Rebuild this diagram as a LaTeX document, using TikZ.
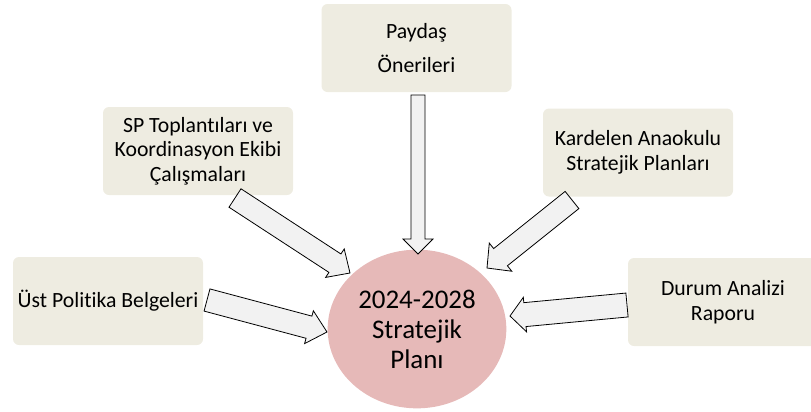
\documentclass[tikz,border=0pt]{standalone}
\usepackage{fontspec}
\setmainfont{Carlito}[Ligatures=NoCommon]
\usetikzlibrary{calc,shapes.geometric}
\definecolor{boxfill}{HTML}{EEECE1}
\definecolor{planfill}{HTML}{E6B9B8}
\definecolor{arrfill}{HTML}{F2F2F2}
% block arrow: tail, tip, half shaft, half head, head length
\newcommand\blockarrow[5]{%
  \draw[arr] (#1) coordinate (t) (#2) coordinate (h) ($(h)!#5!(t)$) coordinate (b)
    ($(t)!#3!90:(h)$) -- ($(b)!#3!90:(h)$) -- ($(b)!#4!90:(h)$) -- (h)
    -- ($(b)!#4!-90:(h)$) -- ($(b)!#3!-90:(h)$) -- ($(t)!#3!-90:(h)$) -- cycle;}
\begin{document}
\begin{tikzpicture}[x=0.75pt, y=-0.75pt,
box/.style={fill=boxfill, rounded corners=4.5pt, minimum width=142.5pt, minimum height=66pt,
  align=center, font=\fontsize{16.3}{18.5}\selectfont},
plan/.style={ellipse, fill=planfill, minimum width=132pt, minimum height=119pt,
  align=center, font=\fontsize{20.2}{22.5}\selectfont},
arr/.style={draw=black, fill=arrfill, line width=0.6pt, line join=miter}]
\useasboundingbox (0,0) rectangle (811,411);
\node[box] (pay) at (416.5,48)  {Paydaş\\[7.5pt]Önerileri};
\node[box] (sp)  at (198,151)   {SP Toplantıları ve\\Koordinasyon Ekibi\\Çalışmaları};
\node[box] (kar) at (638,152.5) {Kardelen Anaokulu\\Stratejik Planları};
\node[box] (ust) at (108,301)   {Üst Politika Belgeleri};
\node[box] (dur) at (723,302)   {Durum Analizi\\Raporu};
\node[plan] (sp24) at (417,329) {2024-2028\\Stratejik\\Planı};
%
\coordinate (pay-t) at (418,95);  \coordinate (pay-h) at (418,254);
\coordinate (sp-t)  at (235,198); \coordinate (sp-h)  at (350,273);
\coordinate (kar-t) at (572,200); \coordinate (kar-h) at (487,268);
\coordinate (ust-t) at (207,300); \coordinate (ust-h) at (327,332);
\coordinate (dur-t) at (627,305); \coordinate (dur-h) at (510,316);
%
\blockarrow{pay-t}{pay-h}{5.25pt}{11.25pt}{11.25pt}
\blockarrow{sp-t}{sp-h}{8.25pt}{12.75pt}{13.5pt}
\blockarrow{kar-t}{kar-h}{8.25pt}{13.5pt}{13pt}
\blockarrow{ust-t}{ust-h}{8.6pt}{12.75pt}{14pt}
\blockarrow{dur-t}{dur-h}{9pt}{13pt}{11.25pt}
\end{tikzpicture}
\end{document}
